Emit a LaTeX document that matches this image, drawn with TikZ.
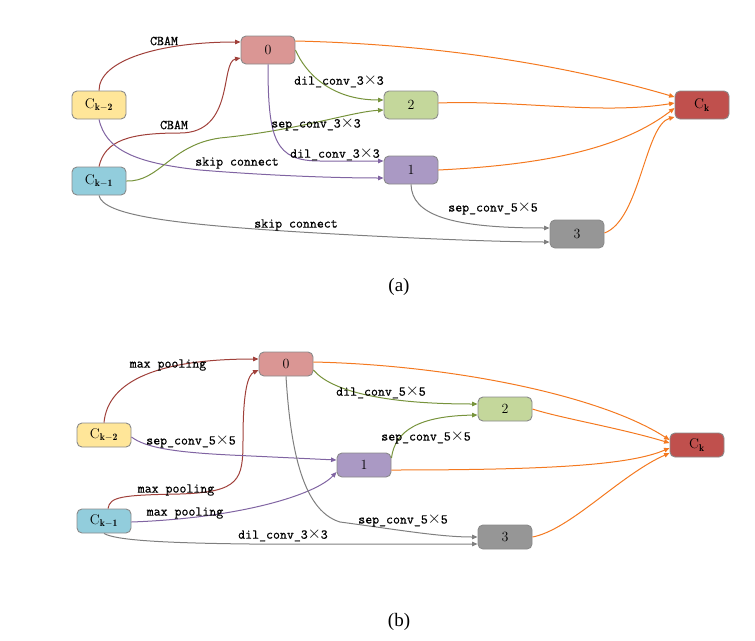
\documentclass[tikz,border=0pt]{standalone}
\usepackage{fontspec}
\usetikzlibrary{arrows.meta}
\newfontfamily\lblfont{Latin Modern Mono}[FakeBold=0.6]
\newfontfamily\capfont{Liberation Serif}
\definecolor{cyel}{HTML}{FFE699}
\definecolor{cblu}{HTML}{92CDDC}
\definecolor{czero}{HTML}{DA9694}
\definecolor{ctwo}{HTML}{C4D79B}
\definecolor{cone}{HTML}{AA99C4}
\definecolor{cthree}{HTML}{969696}
\definecolor{ckk}{HTML}{C0504D}
\definecolor{ered}{HTML}{A0403A}
\definecolor{epur}{HTML}{8064A2}
\definecolor{egrn}{HTML}{77933C}
\definecolor{egry}{HTML}{7F7F7F}
\definecolor{eora}{HTML}{F47920}
\definecolor{bord}{HTML}{8A8A8A}
\newcommand{\X}{\makebox[13pt]{\fontsize{16}{16}\selectfont$\times$}}
\begin{document}
\begin{tikzpicture}[x=1pt,y=-1pt,
  box/.style={draw=bord,line width=0.9pt,rounded corners=5pt,minimum width=54pt,inner sep=0pt,font=\fontsize{14}{16}\selectfont},
  boxa/.style={box,minimum height=28pt},
  boxb/.style={box,minimum height=24pt},
  edge/.style={line width=1pt,-{Triangle[length=5.5pt,width=4.5pt]}},
  lbl/.style={font=\lblfont\fontsize{13.5}{15}\selectfont,inner sep=0pt},
  captxt/.style={font=\capfont\fontsize{19}{21}\selectfont}]
\useasboundingbox (0,0) rectangle (755,640);
% ---------------- (a) ----------------
\node[boxa,fill=cyel] (km2) at (99,105) {$\mathrm{C}_{\mathbf{k-2}}$};
\node[boxa,fill=cblu] (km1) at (99,181) {$\mathrm{C}_{\mathbf{k-1}}$};
\node[boxa,fill=czero] (n0) at (268,50) {0};
\node[boxa,fill=ctwo] (n2) at (411,105) {2};
\node[boxa,fill=cone] (n1) at (411,170) {1};
\node[boxa,fill=cthree] (n3) at (577,234) {3};
\node[boxa,fill=ckk] (ck) at (702,105) {$\mathrm{C}_{\mathbf{k}}$};

\draw[edge,ered] (km2.north) .. controls (99,60) and (160,42) .. ([yshift=8pt]n0.west);
\draw[edge,ered] (km1.north) .. controls (105,140) and (130,133) .. (180,133) .. controls (235,133) and (220,62) .. ([yshift=-8pt]n0.west);
\draw[edge,epur] (km2.south) .. controls (106,150) and (135,163) .. (200,170) .. controls (260,175) and (330,178) .. ([yshift=-8pt]n1.west);
\draw[edge,egrn] (km1.east) .. controls (160,182) and (170,145) .. (220,138) .. controls (300,130) and (350,112) .. ([yshift=-5pt]n2.west);
\draw[edge,epur] (n0.south) .. controls (268,140) and (275,161) .. (320,161) -- ([yshift=9pt]n1.west);
\draw[edge,egrn] (n0.east) .. controls (305,72) and (330,100) .. ([yshift=5pt]n2.west);
\draw[edge,egry] (km1.south) .. controls (103,215) and (170,224) .. (300,232) .. controls (400,238) and (500,242) .. ([yshift=-8pt]n3.west);
\draw[edge,egry] (n1.south) .. controls (412,215) and (450,228) .. ([yshift=6pt]n3.west);
\draw[edge,eora] ([yshift=9pt]n0.east) .. controls (470,45) and (600,75) .. ([yshift=8pt]ck.west);
\draw[edge,eora] ([yshift=2pt]n2.east) .. controls (520,100) and (600,115) .. ([yshift=2pt]ck.west);
\draw[edge,eora] (n1.east) .. controls (540,165) and (620,150) .. ([yshift=-3pt]ck.west);
\draw[edge,eora] ([yshift=1pt]n3.east) .. controls (640,220) and (645,125) .. ([yshift=-12pt]ck.west);

\node[lbl] (la1) at (164,41) {CBAM};
\node[lbl] (la2) at (174,125) {CBAM};
\node[lbl] (la3) at (339,81) {dil\_conv\_3\X3};
\node[lbl] (la4) at (316,124) {sep\_conv\_3\X3};
\node[lbl] (la5) at (335,154) {dil\_conv\_3\X3};
\node[lbl] (la6) at (237,163) {skip connect};
\node[lbl] (la7) at (296,225) {skip connect};
\node[lbl] (la8) at (493,208) {sep\_conv\_5\X5};
\node[captxt] (capa) at (399,287) {(a)};

% ---------------- (b) ----------------
\node[boxb,fill=cyel] (bkm2) at (104,435) {$\mathrm{C}_{\mathbf{k-2}}$};
\node[boxb,fill=cblu] (bkm1) at (104,521) {$\mathrm{C}_{\mathbf{k-1}}$};
\node[boxb,fill=czero] (b0) at (286,364) {0};
\node[boxb,fill=cone] (b1) at (364,465) {1};
\node[boxb,fill=ctwo] (b2) at (505,409) {2};
\node[boxb,fill=cthree] (b3) at (505,537) {3};
\node[boxb,fill=ckk] (bck) at (697,445) {$\mathrm{C}_{\mathbf{k}}$};

\draw[edge,ered] (bkm2.north) .. controls (108,380) and (160,359) .. ([yshift=5pt]b0.west);
\draw[edge,ered] ([xshift=4pt]bkm1.north) .. controls (110,497) and (120,495) .. (180,494) .. controls (240,492) and (243,480) .. (243,440) .. controls (243,390) and (248,375) .. ([yshift=-6pt]b0.west);
\draw[edge,epur] ([yshift=-1pt]bkm1.east) .. controls (240,518) and (315,495) .. ([yshift=-7pt]b1.west);
\draw[edge,epur] ([yshift=-2pt]bkm2.east) .. controls (145,447) and (170,452) .. (230,455) -- ([yshift=5pt]b1.west);
\draw[edge,egry] (bkm1.south) .. controls (115,540) and (160,543) .. (250,544) -- ([yshift=-7pt]b3.west);
\draw[edge,egry] (b0.south) .. controls (290,440) and (300,510) .. (340,522) .. controls (400,530) and (440,537) .. (b3.west);
\draw[edge,egrn] ([yshift=-6pt]b0.east) .. controls (330,390) and (380,404) .. ([yshift=5pt]b2.west);
\draw[edge,egrn] ([yshift=7pt]b1.east) .. controls (395,430) and (420,416) .. ([yshift=-6pt]b2.west);
\draw[edge,eora] ([yshift=2pt]b0.east) .. controls (450,365) and (600,395) .. ([yshift=5pt]bck.west);
\draw[edge,eora] (b2.east) .. controls (560,418) and (620,428) .. ([yshift=2pt]bck.west);
\draw[edge,eora] ([yshift=-5pt]b1.east) .. controls (550,470) and (630,465) .. ([yshift=-3pt]bck.west);
\draw[edge,eora] (b3.east) .. controls (570,530) and (620,475) .. ([yshift=-8pt]bck.west);

\node[lbl] (lb1) at (168,365) {max pooling};
\node[lbl] (lb2) at (176,490) {max pooling};
\node[lbl] (lb3) at (185,513) {max pooling};
\node[lbl] (lb4) at (191,441) {sep\_conv\_5\X5};
\node[lbl] (lb5) at (283,535) {dil\_conv\_3\X3};
\node[lbl] (lb6) at (403,520) {sep\_conv\_5\X5};
\node[lbl] (lb7) at (381,392) {dil\_conv\_5\X5};
\node[lbl] (lb8) at (426,437) {sep\_conv\_5\X5};
\node[captxt] (capb) at (399,622) {(b)};
\end{tikzpicture}
\end{document}
